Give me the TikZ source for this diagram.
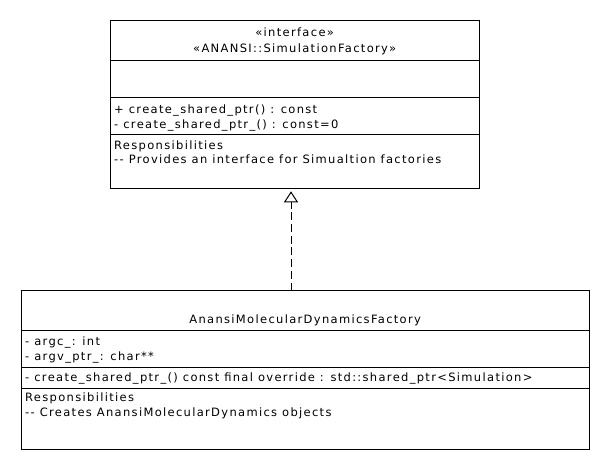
\documentclass[tikz,border=0pt]{standalone}
\usepackage{fontspec}
\setmainfont{DejaVu Sans}[LetterSpace=11.5]
\usetikzlibrary{arrows.meta}
\begin{document}
\begin{tikzpicture}[x=1pt,y=-1pt,
  classbox/.style={draw=black, line width=1pt, inner sep=0pt, fill=white},
  divider/.style={draw=black, line width=1pt},
  txt/.style={inner sep=0pt, font=\fontsize{11.5}{15}\selectfont, text=black},
  realize/.style={draw=black, line width=1pt, dash pattern=on 8pt off 3.7pt,
    -{Triangle[open, width=14pt, length=11pt, line width=1pt]}, shorten >=2pt}]
\useasboundingbox (0,0) rectangle (610,470);
\fill[white] (0,0) rectangle (610,470);
% interface box
\node[classbox, minimum width=369.3pt, minimum height=168.7pt] (iface) at (294.65,104.65) {};
\draw[divider] (110,60.7) -- (479.3,60.7);
\draw[divider] (110,97.7) -- (479.3,97.7);
\draw[divider] (110,135) -- (479.3,135);
\node[txt, anchor=base] (ist) at (294.65,37) {«interface»};
\node[txt, anchor=base] (inm) at (294.65,53) {«ANANSI::SimulationFactory»};
\node[txt, anchor=base west] (im1) at (114,113.3) {+ create\_shared\_ptr() : const};
\node[txt, anchor=base west] (im2) at (114,128.3) {- create\_shared\_ptr\_() : const=0};
\node[txt, anchor=base west] (ir1) at (114,149.3) {Responsibilities};
\node[txt, anchor=base west] (ir2) at (114,164) {-{}- Provides an interface for Simualtion factories};
% implementation box
\node[classbox, minimum width=568.3pt, minimum height=158.6pt] (impl) at (305.15,370) {};
\draw[divider] (21,330.3) -- (589.3,330.3);
\draw[divider] (21,367.3) -- (589.3,367.3);
\draw[divider] (21,388.3) -- (589.3,388.3);
\node[txt, anchor=base] (bnm) at (305.15,323.7) {AnansiMolecularDynamicsFactory};
\node[txt, anchor=base west] (ba1) at (25,345) {- argc\_: int};
\node[txt, anchor=base west] (ba2) at (25,360.5) {- argv\_ptr\_: char**};
\node[txt, anchor=base west] (bm1) at (25,381) {- create\_shared\_ptr\_() const final override : std::shared\_ptr<Simulation>};
\node[txt, anchor=base west] (br1) at (25,401.7) {Responsibilities};
\node[txt, anchor=base west] (br2) at (25,416.7) {-{}- Creates AnansiMolecularDynamics objects};
% realization
\coordinate (rs) at (291,290.5);
\coordinate (re) at (291,189.3);
\draw[realize] (rs) -- (re);
\end{tikzpicture}
\end{document}
